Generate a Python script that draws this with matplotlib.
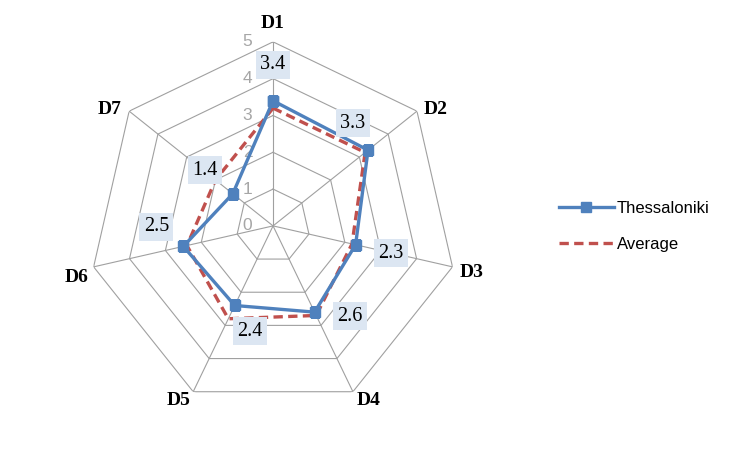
import numpy as np
import matplotlib
matplotlib.use("Agg")
import matplotlib.pyplot as plt
from matplotlib.lines import Line2D

categories = ["D1", "D2", "D3", "D4", "D5", "D6", "D7"]
thessaloniki = [3.4, 3.3, 2.3, 2.6, 2.4, 2.5, 1.4]
average = [3.2, 3.2, 2.2, 2.7, 2.8, 2.4, 2.0]
r_ticks = [0, 1, 2, 3, 4, 5]

# label offsets in points (style only)
label_offsets = [(0, 26), (-11, 19.5), (25.5, -6), (25.5, -3), (11, -18.5), (-19.5, 14), (-20, 17)]
cat_offsets = [(0, 10, "center"), (4.5, -2, "left"), (5, -7.2, "left"), (3, -9.4, "left"),
               (-2, -9.4, "right"), (-3.5, -10.8, "right"), (-5.5, -2, "right")]

blue = "#4F81BD"
red = "#C0504D"
grid_c = "#A0A0A0"

fig = plt.figure(figsize=(7.41, 4.5), dpi=100)
ax = fig.add_axes([0.120, 0.089, 0.497, 0.818], projection="polar")
ax.set_theta_zero_location("N")
ax.set_theta_direction(-1)
ax.set_ylim(0, 5)
ax.axis("off")

n = len(categories)
theta = np.arange(n) * 2 * np.pi / n
theta_c = np.append(theta, theta[0])

# polygon grid
for lv in r_ticks[1:]:
    ax.plot(theta_c, [lv] * (n + 1), color=grid_c, lw=0.8, zorder=1)
for t in theta:
    ax.plot([t, t], [0, r_ticks[-1]], color=grid_c, lw=0.8, zorder=1)

# radial labels
for lv in r_ticks:
    ax.annotate(str(lv), xy=(0, lv), xytext=(-18.4, 0), textcoords="offset points",
                ha="center", va="center", color="#A6A6A6", fontsize=12.5,
                family="Liberation Sans", zorder=2)

# category labels
for t, c, (dx, dy, ha) in zip(theta, categories, cat_offsets):
    ax.annotate(c, xy=(t, 5), xytext=(dx, dy), textcoords="offset points",
                ha=ha, va="baseline", fontsize=14, fontweight="bold",
                family="Liberation Serif")

avg_c = np.append(average, average[0])
th_c = np.append(thessaloniki, thessaloniki[0])
ax.plot(theta_c, avg_c, color=red, lw=2.4, dashes=(2.8, 1.6), zorder=3, label="Average")
ax.plot(theta_c, th_c, color=blue, lw=2.4, marker="s", markersize=7, zorder=4,
        label="Thessaloniki")

for t, v, off in zip(theta, thessaloniki, label_offsets):
    ax.annotate(f"{v:.1f}", xy=(t, v), xytext=off, textcoords="offset points",
                ha="center", va="center", fontsize=14.5, family="Liberation Serif",
                bbox=dict(boxstyle="square,pad=0.22", fc="#DCE6F2", ec="none"), zorder=5)

handles = [
    Line2D([], [], color=blue, lw=2.4, marker="s", markersize=7),
    Line2D([], [], color=red, lw=2.4, dashes=(2.8, 1.6)),
]
fig.legend(handles, ["Thessaloniki", "Average"], loc="center left",
           bbox_to_anchor=(0.734, 0.497), frameon=False, handlelength=3.3,
           handletextpad=0.18, labelspacing=1.25,
           prop=dict(family="Liberation Sans", size=12))

fig.savefig("out.png", dpi=100)
